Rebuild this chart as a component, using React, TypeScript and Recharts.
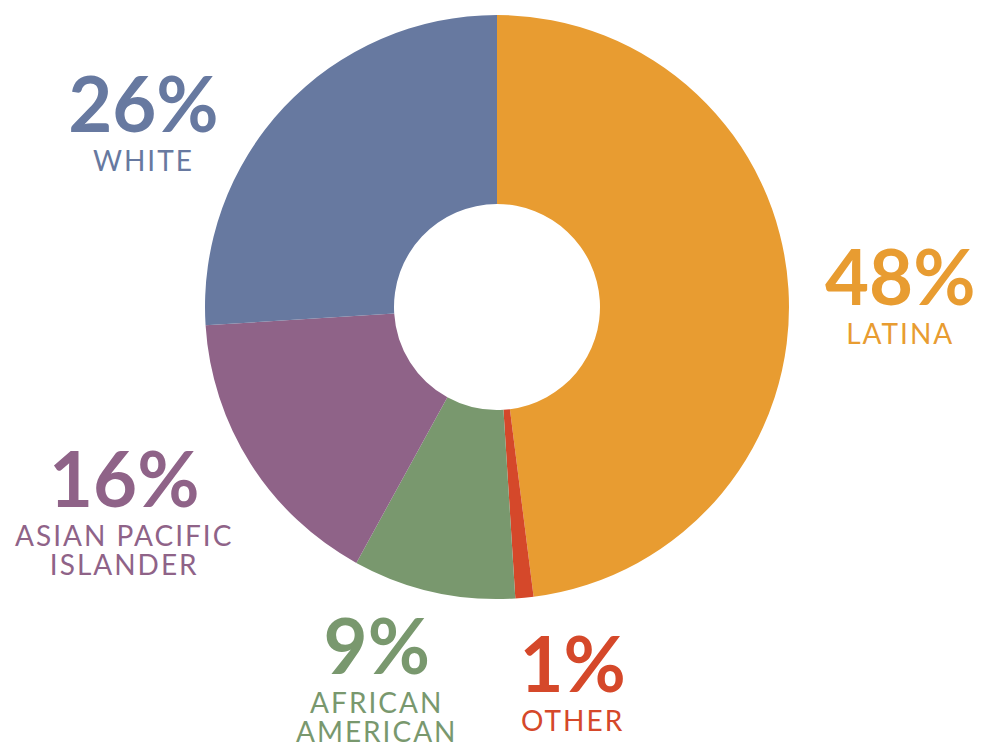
import { PieChart, Pie, Cell } from "recharts";

const categories = ["LATINA", "OTHER", "AFRICAN AMERICAN", "ASIAN PACIFIC ISLANDER", "WHITE"];
const shares = [48, 1, 9, 16, 26];
const nameLines = [["LATINA"], ["OTHER"], ["AFRICAN", "AMERICAN"], ["ASIAN PACIFIC", "ISLANDER"], ["WHITE"]];

const colors = ["#E89C31", "#D5482A", "#79986E", "#8F6388", "#6779A0"];
// nudges from the radial anchor to where each label sits
const labelNudge = [
  [4, 23],
  [38, -13],
  [-33, -23],
  [-35, -14],
  [-62, 99],
];

const RADIAN = Math.PI / 180;
const FONT = "Lato, 'Noto Sans', sans-serif";

const data = categories.map((name, i) => ({ name, value: shares[i] }));

function renderLabel(props: any) {
  const { cx, cy, midAngle, outerRadius, index, value } = props;
  const r = outerRadius * 1.37;
  const x = cx + r * Math.cos(-midAngle * RADIAN) + labelNudge[index][0];
  const y = cy + r * Math.sin(-midAngle * RADIAN) + labelNudge[index][1];
  const color = colors[index];
  return (
    <g key={"lbl-" + index}>
      <text
        x={x}
        y={y}
        textAnchor="middle"
        fill={color}
        fontFamily={FONT}
        fontWeight={700}
        fontSize={76}
      >
        {value}%
      </text>
      {nameLines[index].map((line, j) => (
        <text
          key={j}
          x={x}
          y={y + 39 + j * 29}
          textAnchor="middle"
          fill={color}
          fontFamily={FONT}
          fontSize={28}
          letterSpacing={2}
        >
          {line}
        </text>
      ))}
    </g>
  );
}

function App() {
  return (
    <div style={{ position: "absolute", left: 0, top: 0 }}>
      <PieChart
        width={987}
        height={745}
        margin={{ top: 0, right: 0, bottom: 0, left: 0 }}
      >
        <Pie
          data={data}
          dataKey="value"
          nameKey="name"
          cx={497}
          cy={307}
          innerRadius={103}
          outerRadius={292}
          startAngle={90}
          endAngle={-270}
          stroke="none"
          labelLine={false}
          label={renderLabel}
          isAnimationActive={false}
        >
          {data.map((d, i) => (
            <Cell key={d.name} fill={colors[i]} />
          ))}
        </Pie>
      </PieChart>
    </div>
  );
}

export default App;
